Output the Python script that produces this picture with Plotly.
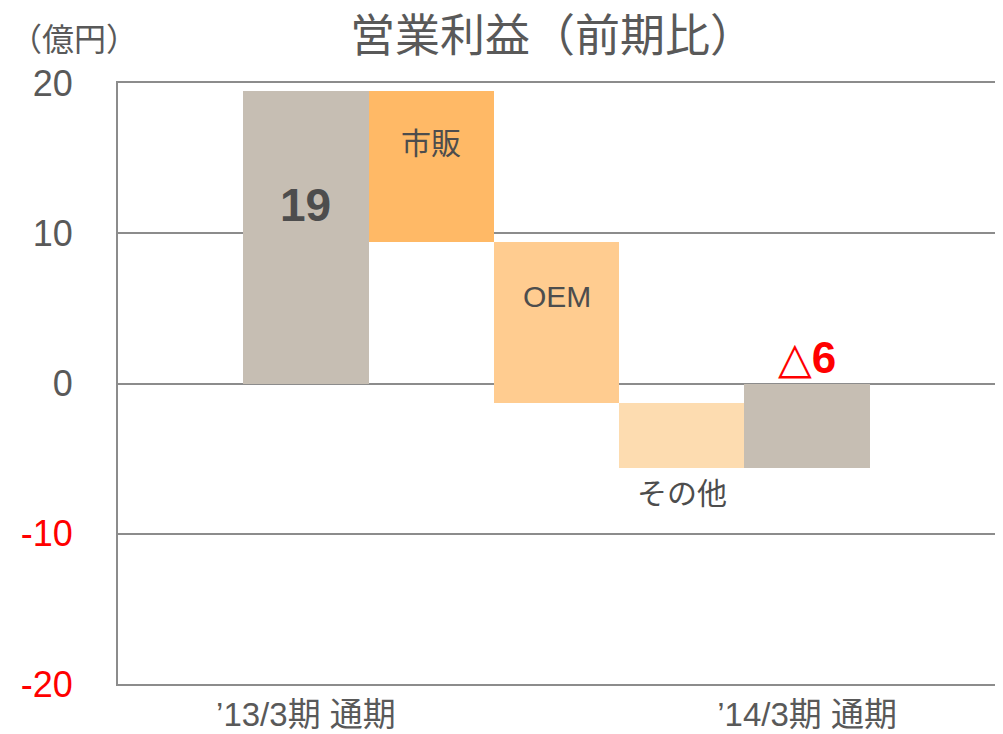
import plotly.graph_objects as go

# ---- data ----
step_labels = ["’13/3期 通期", "市販", "OEM", "その他", "’14/3期 通期"]
start_value = 19.5
changes = [-10.1, -10.7, -4.3]
bar_colors = ["#C6BEB3", "#FFB966", "#FFCC90", "#FDDCB0", "#C6BEB3"]
y_tickvals = [20, 10, 0, -10, -20]
y_ticktext = ["20", "10", "0", "-10", "-20"]
x_positions = [1, 2, 3, 4, 5]
inner_labels = ["19", "市販", "OEM", "その他", "△6"]
label_y = [11.9, 16.0, 5.8, -7.3, 1.75]

# ---- derived waterfall geometry ----
end_value = start_value + sum(changes)
bases = [0]
heights = [start_value]
level = start_value
for c in changes:
    bases.append(level)
    heights.append(c)
    level += c
bases.append(0)
heights.append(end_value)

FONT = "Liberation Sans, Arial, Noto Sans CJK JP, sans-serif"
GRAY = "#595959"

fig = go.Figure()
fig.add_trace(go.Bar(
    x=x_positions, y=heights, base=bases, width=1.0,
    marker=dict(color=bar_colors, line=dict(width=0)),
    hoverinfo="skip", showlegend=False,
))

ticktext_colored = []
for v, t in zip(y_tickvals, y_ticktext):
    if v < 0:
        ticktext_colored.append(f"<span style='color:#FF0000'>{t}</span>")
    else:
        ticktext_colored.append(t)

fig.update_layout(
    width=995, height=726,
    margin=dict(l=110, r=8, t=75, b=50),
    paper_bgcolor="white", plot_bgcolor="white",
    font=dict(family=FONT, color=GRAY),
    bargap=0,
    xaxis=dict(
        range=[-0.5, 6.5], tickmode="array",
        tickvals=[x_positions[0], x_positions[-1]],
        ticktext=[step_labels[0], step_labels[-1]],
        tickfont=dict(size=33, color=GRAY, family=FONT),
        showgrid=False, zeroline=False, automargin=False,
        showline=True, linecolor="#8C8C8C", linewidth=2, mirror=True,
        ticks="", ticklabelstandoff=0,
    ),
    yaxis=dict(
        range=[-20, 20], tickmode="array",
        tickvals=y_tickvals, ticktext=ticktext_colored,
        tickfont=dict(size=36, color=GRAY, family=FONT),
        showgrid=True, gridcolor="#8C8C8C", gridwidth=2,
        zeroline=True, zerolinecolor="#8C8C8C", zerolinewidth=2,
        showline=True, linecolor="#8C8C8C", linewidth=2, mirror=True,
        ticks="", ticklabelstandoff=36, automargin=False,
    ),
    showlegend=False,
)

# title and unit
fig.add_annotation(text="営業利益（前期比）", xref="paper", yref="paper",
                   x=0.495, y=1.0, yshift=47, yanchor="middle", showarrow=False,
                   font=dict(size=45, color=GRAY, family=FONT))
fig.add_annotation(text="（億円）", xref="paper", yref="paper",
                   x=-0.1254, y=1.0, yshift=43, xanchor="left", yanchor="middle",
                   showarrow=False,
                   font=dict(size=32, color=GRAY, family=FONT))

# labels on bars
styles = [
    dict(size=46, color="#4D4D4D", bold=True),
    dict(size=30, color="#4D4D4D", bold=False),
    dict(size=30, color="#4D4D4D", bold=False),
    dict(size=30, color="#4D4D4D", bold=False),
    dict(size=44, color="#FF0000", bold=True),
]
for xp, txt, yy, st in zip(x_positions, inner_labels, label_y, styles):
    if txt.startswith("△"):
        t = ("<b><span style='font-family:\"DejaVu Sans\";font-weight:bold'>△</span>"
             + txt[1:] + "</b>")
    elif st["bold"]:
        t = f"<b>{txt}</b>"
    else:
        t = txt
    fig.add_annotation(text=t, x=xp, y=yy, showarrow=False,
                       font=dict(size=st["size"], color=st["color"], family=FONT))

fig.write_html("out.html")
